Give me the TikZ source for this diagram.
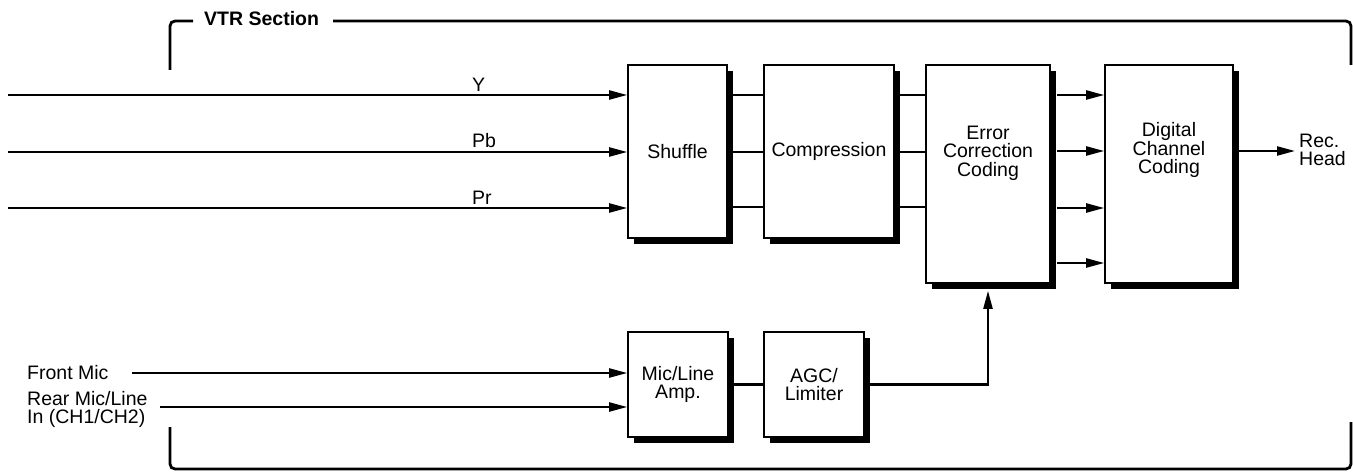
\documentclass[tikz,border=0pt]{standalone}
\usepackage{fontspec}
\setmainfont{Liberation Sans}
\usetikzlibrary{arrows.meta,shadows,calc}
\begin{document}
\begin{tikzpicture}[x=1pt,y=1pt,
  font=\fontsize{19.5}{18.5}\selectfont,
  blk/.style={draw=black,line width=1.6pt,fill=white,inner sep=0pt,align=center,
    drop shadow={shadow xshift=6pt,shadow yshift=-6pt,opacity=1,fill=black}},
  wire/.style={line width=2.2pt},
  arr/.style={wire,-{Triangle[length=18pt,width=9pt]}},
  frame/.style={line width=2.8pt,rounded corners=5pt},
  lbl/.style={inner sep=0pt,align=left}]
\useasboundingbox (0,0) rectangle (1353,-473);
% frame
\node[lbl,anchor=base west,font=\fontsize{19.5}{19}\selectfont\bfseries] (title) at (204,-26) {VTR Section};
\coordinate (f1) at (193,-21);
\coordinate (f2) at (170,-21);
\coordinate (f3) at (170,-70);
\coordinate (f4) at (333,-21);
\coordinate (f5) at (1351,-21);
\coordinate (f6) at (1351,-65);
\coordinate (f7) at (170,-427);
\coordinate (f8) at (170,-469);
\coordinate (f9) at (1351,-469);
\coordinate (f10) at (1351,-422);
\draw[frame] (f1) -- (f2) -- (f3);
\draw[frame] (f4) -- (f5) -- (f6);
\draw[frame] (f7) -- (f8) -- (f9) -- (f10);
% blocks
\node[blk,minimum width=99pt,minimum height=173pt] (shuf) at (677.5,-151.5) {Shuffle};
\node[blk,minimum width=130pt,minimum height=173pt] (comp) at (829,-151.5) {Compression};
\node[blk,minimum width=124pt,minimum height=218pt] (ecc) at (988,-174) {};
\node[lbl,align=center] (ecct) at (988,-153) {Error\\Correction\\Coding};
\node[blk,minimum width=128pt,minimum height=218pt] (dcc) at (1169,-174) {};
\node[lbl,align=center] (dcct) at (1169,-150) {Digital\\Channel\\Coding};
\node[blk,minimum width=100pt,minimum height=105pt] (amp) at (678,-384.5) {Mic/Line\\Amp.};
\node[blk,minimum width=100pt,minimum height=105pt] (agc) at (814,-384.5) {AGC/\\Limiter};
% video inputs
\coordinate (yin) at (8,-95);
\coordinate (pbin) at (8,-152);
\coordinate (prin) at (8,-208);
\draw[arr] (yin) -- (yin -| shuf.west);
\draw[arr] (pbin) -- (pbin -| shuf.west);
\draw[arr] (prin) -- (prin -| shuf.west);
\node[lbl,anchor=base west] (ylab) at (472,-92) {Y};
\node[lbl,anchor=base west] (pblab) at (472,-148) {Pb};
\node[lbl,anchor=base west] (prlab) at (472,-205) {Pr};
% shuffle -> compression -> ecc
\foreach \yy in {-95,-152,-207}{
  \draw[wire] (shuf.east |- 0,\yy) -- (comp.west |- 0,\yy);
  \draw[wire] (comp.east |- 0,\yy) -- (ecc.west |- 0,\yy);
}
% ecc -> dcc
\foreach \yy in {-95,-151,-208,-263}{
  \draw[arr] ($(ecc.east |- 0,\yy)+(6,0)$) -- (dcc.west |- 0,\yy);
}
% output
\coordinate (recend) at (1295,-151);
\draw[arr] (dcc.east |- recend) -- (recend);
\node[lbl,anchor=west] (rec) at (1299,-150) {Rec.\\Head};
% audio
\node[lbl,anchor=base west] (fm) at (27,-379) {Front Mic};
\node[lbl,anchor=north west] (rm) at (27,-391) {Rear Mic/Line\\In (CH1/CH2)};
\coordinate (fmst) at (132,-373);
\coordinate (rmst) at (160,-407);
\draw[arr] (fmst) -- (fmst -| amp.west);
\draw[arr] (rmst) -- (rmst -| amp.west);
\draw[wire] (amp.east) -- (agc.west);
\draw[arr] (agc.east) -| ($(ecc.south)+(0,-7)$);
\end{tikzpicture}
\end{document}
